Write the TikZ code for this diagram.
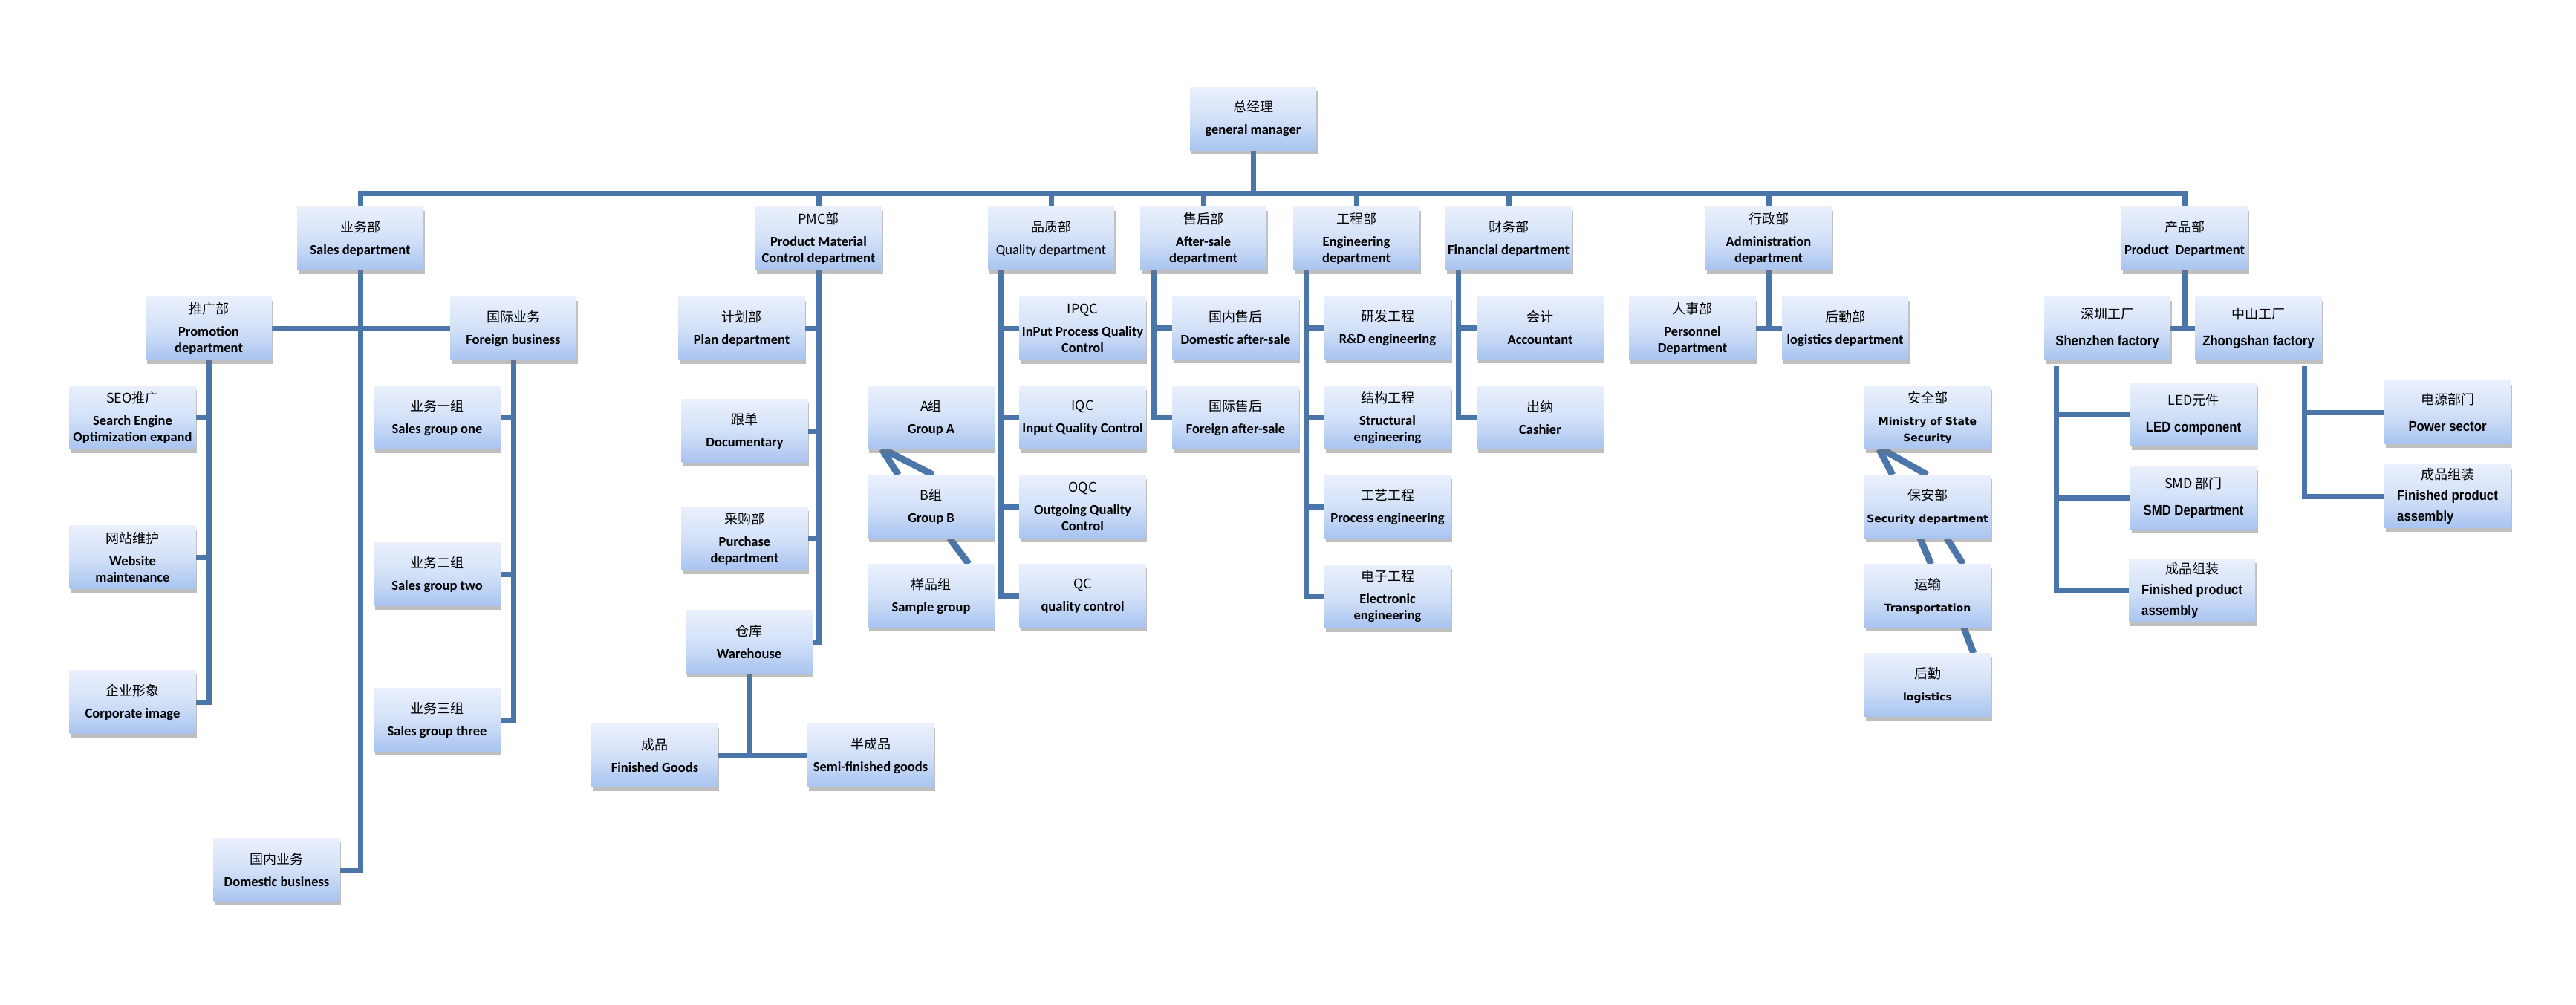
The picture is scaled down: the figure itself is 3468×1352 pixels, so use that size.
\documentclass[tikz,border=0pt]{standalone}
\usepackage{fontspec}
\setmainfont{Carlito}
\newfontfamily\cjk{Noto Sans CJK SC}
\newfontfamily\verd{DejaVu Sans}
\newfontfamily\arialn[FakeStretch=0.88]{Liberation Sans}
\usetikzlibrary{shadows,backgrounds,calc}
\definecolor{linecol}{HTML}{4A76AA}
\definecolor{boxtop}{HTML}{EAF0FC}
\definecolor{boxmid}{HTML}{D3E1F8}
\definecolor{boxbot}{HTML}{A8C4F0}
\newcommand\zhtxt[1]{{\cjk\mdseries\fontsize{18}{22}\selectfont #1}}
\newcommand\orgtxt[2]{\zhtxt{#1}\\[8pt]#2}
\tikzset{
  orgbox/.style={minimum width=170pt, minimum height=85pt, inner sep=0pt, align=center,
    top color=boxtop, bottom color=boxbot, middle color=boxmid,
    drop shadow={shadow xshift=1.5pt, shadow yshift=-5pt, opacity=0.45, fill=black!55},
    font=\fontsize{18.5}{22}\selectfont\bfseries},
  secfont/.style={font=\verd\bfseries\fontsize{14}{22}\selectfont},
  prodfont/.style={font=\arialn\bfseries\fontsize{19}{28}\selectfont},
  conn/.style={draw=linecol, line width=7pt, line join=miter},
  diag/.style={draw=linecol, line width=9pt},
}
\begin{document}
\begin{tikzpicture}[x=1pt,y=-1pt]
\useasboundingbox (0,0) rectangle (3468,1352);
% top
\node[orgbox] (gm) at (1687,159.5) {\orgtxt{总经理}{general manager}};
% level 1
\node[orgbox] (sales) at (485,321) {\orgtxt{业务部}{Sales department}};
\node[orgbox] (pmc) at (1102,321) {\orgtxt{PMC部}{Product Material\\Control department}};
\node[orgbox] (qual) at (1415,321) {\orgtxt{品质部}{\mdseries Quality department}};
\node[orgbox] (after) at (1620,321) {\orgtxt{售后部}{After-sale\\department}};
\node[orgbox] (eng) at (1826,321) {\orgtxt{工程部}{Engineering\\department}};
\node[orgbox] (fin) at (2031,321) {\orgtxt{财务部}{Financial department}};
\node[orgbox] (adm) at (2381,321) {\orgtxt{行政部}{Administration\\department}};
\node[orgbox] (prod) at (2941,321) {\orgtxt{产品部}{Product\ \ Department}};
% sales
\node[orgbox] (promo) at (281,442) {\orgtxt{推广部}{Promotion\\department}};
\node[orgbox] (foreign) at (691,442) {\orgtxt{国际业务}{Foreign business}};
\node[orgbox] (seo) at (178.5,562) {\orgtxt{SEO推广}{Search Engine\\Optimization expand}};
\node[orgbox] (web) at (178.5,750) {\orgtxt{网站维护}{Website\\maintenance}};
\node[orgbox] (corp) at (178.5,945) {\orgtxt{企业形象}{Corporate image}};
\node[orgbox] (g1) at (588.5,562) {\orgtxt{业务一组}{Sales group one}};
\node[orgbox] (g2) at (588.5,773) {\orgtxt{业务二组}{Sales group two}};
\node[orgbox] (g3) at (588.5,969) {\orgtxt{业务三组}{Sales group three}};
\node[orgbox] (dom) at (372.5,1171) {\orgtxt{国内业务}{Domestic business}};
% pmc
\node[orgbox] (plan) at (998.5,442) {\orgtxt{计划部}{Plan department}};
\node[orgbox] (doc) at (1002.5,580) {\orgtxt{跟单}{Documentary}};
\node[orgbox] (purch) at (1002.5,725) {\orgtxt{采购部}{Purchase\\department}};
\node[orgbox] (wh) at (1008.5,864) {\orgtxt{仓库}{Warehouse}};
\node[orgbox] (fg) at (881.5,1017) {\orgtxt{成品}{Finished Goods}};
\node[orgbox] (semi) at (1172,1017) {\orgtxt{半成品}{Semi-finished goods}};
% quality
\node[orgbox] (ipqc) at (1457.5,442) {\orgtxt{IPQC}{InPut Process Quality\\Control}};
\node[orgbox] (iqc) at (1457.5,562) {\orgtxt{IQC}{Input Quality Control}};
\node[orgbox] (oqc) at (1457.5,682) {\orgtxt{OQC}{Outgoing Quality\\Control}};
\node[orgbox] (qc) at (1457.5,802) {\orgtxt{QC}{quality control}};
\node[orgbox] (ga) at (1253.5,562) {\orgtxt{A组}{Group A}};
\node[orgbox] (gb) at (1253.5,682) {\orgtxt{B组}{Group B}};
\node[orgbox] (gs) at (1253.5,802) {\orgtxt{样品组}{Sample group}};
% after-sale
\node[orgbox] (das) at (1663.5,441) {\orgtxt{国内售后}{Domestic after-sale}};
\node[orgbox] (fas) at (1663.5,562) {\orgtxt{国际售后}{Foreign after-sale}};
% engineering
\node[orgbox] (rd) at (1868,441) {\orgtxt{研发工程}{R\&D engineering}};
\node[orgbox] (st) at (1868,562) {\orgtxt{结构工程}{Structural\\engineering}};
\node[orgbox] (pr) at (1868,682) {\orgtxt{工艺工程}{Process engineering}};
\node[orgbox] (el) at (1868,803) {\orgtxt{电子工程}{Electronic\\engineering}};
% financial
\node[orgbox] (acc) at (2073.5,441) {\orgtxt{会计}{Accountant}};
\node[orgbox] (cash) at (2073.5,562) {\orgtxt{出纳}{Cashier}};
% admin
\node[orgbox] (pers) at (2278.5,442) {\orgtxt{人事部}{Personnel\\Department}};
\node[orgbox] (logd) at (2484,442) {\orgtxt{后勤部}{logistics department}};
% security chain
\node[orgbox,secfont] (sec1) at (2595,562) {\orgtxt{安全部}{Ministry of State\\Security}};
\node[orgbox,secfont] (sec2) at (2595,682) {\orgtxt{保安部}{Security department}};
\node[orgbox,secfont] (sec3) at (2595,802) {\orgtxt{运输}{Transportation}};
\node[orgbox,secfont] (sec4) at (2595,922) {\orgtxt{后勤}{logistics}};
% product
\node[orgbox,prodfont] (sz) at (2837,442) {\orgtxt{深圳工厂}{Shenzhen factory}};
\node[orgbox,prodfont] (zs) at (3040.5,442) {\orgtxt{中山工厂}{Zhongshan factory}};
\node[orgbox,prodfont] (led) at (2953,558) {\orgtxt{LED元件}{LED component}};
\node[orgbox,prodfont] (smd) at (2953,670) {\orgtxt{SMD 部门}{SMD Department}};
\node[orgbox,prodfont] (fpa1) at (2951,795) {\zhtxt{成品组装}\\Finished product\\\rlap{assembly}\phantom{Finished product}};
\node[orgbox,prodfont] (power) at (3295,555) {\orgtxt{电源部门}{Power sector}};
\node[orgbox,prodfont] (fpa2) at (3295,668) {\zhtxt{成品组装}\\Finished product\\\rlap{assembly}\phantom{Finished product}};

\begin{pgfonlayer}{background}
\fill[white] (0,0) rectangle (3468,1352);
\coordinate (busy) at (0,260);
\draw[conn] (gm.south) -- (gm.south |- busy);
\draw[conn] (sales.north) -- (sales.north |- busy) -- (prod.north |- busy) -- (prod.north);
\foreach \n in {pmc,qual,after,eng,fin,adm}
  \draw[conn] (\n.north) -- (\n.north |- busy);
% sales
\draw[conn] (sales.south) |- (dom.east);
\draw[conn] (promo.east) -- (foreign.west);
\draw[conn] (promo.south) |- (corp.east);
\draw[conn] (seo.east) -- (seo.east -| promo.south);
\draw[conn] (web.east) -- (web.east -| promo.south);
\draw[conn] (foreign.south) |- (g3.east);
\draw[conn] (g1.east) -- (g1.east -| foreign.south);
\draw[conn] (g2.east) -- (g2.east -| foreign.south);
% pmc
\draw[conn] (pmc.south) |- (wh.east);
\foreach \n in {plan,doc,purch}
  \draw[conn] (\n.east) -- (\n.east -| pmc.south);
\draw[conn] (wh.south) -- (wh.south |- fg.east);
\draw[conn] (fg.east) -- (semi.west);
% quality
\coordinate (qv) at ($(qual.south west)+(18,0)$);
\draw[conn] (qv) |- (qc.west);
\foreach \n in {ipqc,iqc,oqc}
  \draw[conn] (\n.west) -- (\n.west -| qv);
\draw[diag] ($(ga.south west)+(19,0)$) -- ($(gb.north west)+(41,0)$);
\draw[diag] ($(ga.south west)+(21,0)$) -- ($(gb.north west)+(88,0)$);
\draw[diag] ($(gb.south west)+(110,0)$) -- ($(gs.north west)+(136,0)$);
% after-sale
\coordinate (av) at ($(after.south west)+(19,0)$);
\draw[conn] (av) |- (fas.west);
\draw[conn] (das.west) -- (das.west -| av);
% engineering
\coordinate (ev) at ($(eng.south west)+(18,0)$);
\draw[conn] (ev) |- (el.west);
\foreach \n in {rd,st,pr}
  \draw[conn] (\n.west) -- (\n.west -| ev);
% financial
\coordinate (fv) at ($(fin.south west)+(18,0)$);
\draw[conn] (fv) |- (cash.west);
\draw[conn] (acc.west) -- (acc.west -| fv);
% admin
\draw[conn] (adm.south) -- (adm.south |- pers.east);
\draw[conn] (pers.east) -- (logd.west);
% security chain
\draw[diag] ($(sec1.south west)+(20,0)$) -- ($(sec2.north west)+(38,0)$);
\draw[diag] ($(sec1.south west)+(24,0)$) -- ($(sec2.north west)+(85,0)$);
\draw[diag] ($(sec2.south west)+(75,0)$) -- ($(sec3.north west)+(90,0)$);
\draw[diag] ($(sec2.south west)+(111,0)$) -- ($(sec3.north west)+(133,0)$);
\draw[diag] ($(sec3.south west)+(134,0)$) -- ($(sec4.north west)+(147,0)$);
% product
\draw[conn] (prod.south) -- (prod.south |- sz.east);
\draw[conn] (sz.east) -- (zs.west);
\coordinate (szv) at ($(sz.south west)+(17,8)$);
\draw[conn] (szv) |- (fpa1.west);
\draw[conn] (led.west) -- (led.west -| szv);
\draw[conn] (smd.west) -- (smd.west -| szv);
\coordinate (zsv) at ($(zs.south east)+(-23,8)$);
\draw[conn] (zsv) |- (fpa2.west);
\draw[conn] (power.west) -- (power.west -| zsv);
\end{pgfonlayer}
\end{tikzpicture}
\end{document}
